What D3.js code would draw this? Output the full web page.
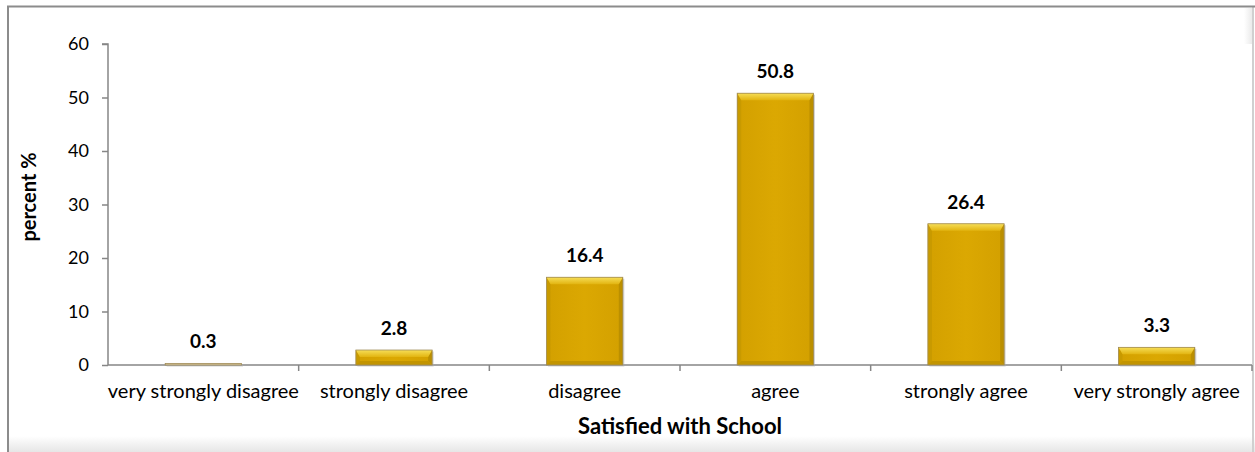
<!DOCTYPE html>
<html><head><meta charset="utf-8">
<script src="https://cdn.jsdelivr.net/npm/d3@7"></script>
<style>body{margin:0;background:#fff}svg{display:block}</style>
</head><body>
<script>
const categories = ["very strongly disagree","strongly disagree","disagree","agree","strongly agree","very strongly agree"];
const values = [0.3, 2.8, 16.4, 50.8, 26.4, 3.3];
const yTicks = [0,10,20,30,40,50,60];
const xTitle = "Satisfied with School";
const yTitle = "percent %";

const W = 1255, H = 452;
const svg = d3.select("body").append("svg").attr("width", W).attr("height", H);
const defs = svg.append("defs");
const font = "Lato, Open Sans, sans-serif";

// frame shadows
const gb = defs.append("linearGradient").attr("id","gb").attr("x1",0).attr("y1",0).attr("x2",0).attr("y2",1);
gb.append("stop").attr("offset",0).attr("stop-color","#ffffff");
gb.append("stop").attr("offset",1).attr("stop-color","#e6e6e6");
const gr = defs.append("linearGradient").attr("id","gr").attr("x1",0).attr("y1",0).attr("x2",1).attr("y2",0);
gr.append("stop").attr("offset",0).attr("stop-color","#ffffff");
gr.append("stop").attr("offset",1).attr("stop-color","#e8e8e8");
svg.append("rect").attr("x",9).attr("y",436).attr("width",1246).attr("height",16).attr("fill","url(#gb)");
svg.append("rect").attr("x",1244).attr("y",8).attr("width",9).attr("height",36).attr("fill","url(#gr)");
svg.append("line").attr("x1",1253).attr("x2",1253).attr("y1",7).attr("y2",452).attr("stroke","#d0d0d0").attr("stroke-width",2);
svg.append("line").attr("x1",7).attr("x2",1255).attr("y1",6.5).attr("y2",6.5).attr("stroke","#8c8c8c").attr("stroke-width",2);
svg.append("line").attr("x1",8).attr("x2",8).attr("y1",6).attr("y2",452).attr("stroke","#8c8c8c").attr("stroke-width",2);

const x0 = 108, x1 = 1252, yTop = 44, yBot = 365;
const x = d3.scaleBand().domain(categories).range([x0, x1]).paddingInner(0.6).paddingOuter(0.3);
const y = d3.scaleLinear().domain([0, 60]).range([yBot, yTop]);

// y axis
const ya = svg.append("g").attr("transform", `translate(${x0},0)`)
  .call(d3.axisLeft(y).tickValues(yTicks).tickSize(6).tickPadding(13));
ya.select(".domain").attr("stroke","#868686").attr("stroke-width",1.5).attr("d", `M-6,${yTop}H0V${yBot}`);
ya.selectAll(".tick line").attr("stroke","#868686").attr("stroke-width",1.5);
ya.selectAll("text").attr("font-family",font).attr("font-size",18).attr("fill","#000");

// x axis
const bandW = (x1 - x0) / categories.length;
const xa = svg.append("g").attr("transform", `translate(0,${yBot})`)
  .call(d3.axisBottom(x).tickSize(0).tickPadding(19));
xa.select(".domain").attr("stroke","#868686").attr("stroke-width",1.5).attr("d", `M${x0},0H${x1}`);
xa.selectAll("text").attr("font-family",font).attr("font-size",20).attr("fill","#000");
const bounds = d3.range(1, categories.length + 1).map(i => x0 + i * bandW);
svg.append("g").selectAll("line").data(bounds).join("line")
  .attr("x1", d => d).attr("x2", d => d).attr("y1", yBot).attr("y2", yBot + 6)
  .attr("stroke","#868686").attr("stroke-width",1.5);

// bars with bevel
const gf = defs.append("linearGradient").attr("id","gf").attr("x1",0).attr("y1",0).attr("x2",1).attr("y2",0);
gf.append("stop").attr("offset",0).attr("stop-color","#d3a000");
gf.append("stop").attr("offset",0.5).attr("stop-color","#dba802");
gf.append("stop").attr("offset",1).attr("stop-color","#d3a000");
const gt = defs.append("linearGradient").attr("id","gt").attr("x1",0).attr("y1",0).attr("x2",0).attr("y2",1);
gt.append("stop").attr("offset",0).attr("stop-color","#f6de58");
gt.append("stop").attr("offset",1).attr("stop-color","#e2b410");
const bars = svg.append("g").selectAll("g").data(categories.map((c,i)=>({c, v: values[i]}))).join("g");
bars.each(function(d){
  const g = d3.select(this);
  const bx = x(d.c), bw = x.bandwidth(), by = y(d.v), bh = yBot - by;
  const bt = Math.min(7, bh*0.55), bs = Math.min(4, bh/3);
  g.append("rect").attr("x",bx+1.5).attr("y",by+1.5).attr("width",bw).attr("height",bh).attr("fill","#aaa").attr("opacity",0.5);
  g.append("rect").attr("x",bx).attr("y",by).attr("width",bw).attr("height",bh).attr("fill", d.v < 1 ? "#d9c9a0" : "url(#gf)");
  if (d.v >= 1) {
    g.append("path").attr("d",`M${bx},${by}L${bx+bs},${by+bt}V${yBot-bs}L${bx},${yBot}Z`).attr("fill","#c89a00");
    g.append("path").attr("d",`M${bx+bw},${by}L${bx+bw-bs},${by+bt}V${yBot-bs}L${bx+bw},${yBot}Z`).attr("fill","#bb8f00");
    g.append("path").attr("d",`M${bx},${yBot}L${bx+bs},${yBot-bs}H${bx+bw-bs}L${bx+bw},${yBot}Z`).attr("fill","#c29400");
    g.append("path").attr("d",`M${bx},${by}H${bx+bw}L${bx+bw-bs},${by+bt}H${bx+bs}Z`).attr("fill","url(#gt)");
  }
  g.append("rect").attr("x",bx).attr("y",by).attr("width",bw).attr("height",bh).attr("fill","none").attr("stroke","#a08c58").attr("stroke-width",0.8);
  g.append("text").attr("x", bx + bw/2).attr("y", by - 15).attr("text-anchor","middle")
    .attr("font-family",font).attr("font-weight","bold").attr("font-size",19).text(d.v.toFixed(1));
});

// titles
svg.append("text").attr("x",(x0+x1)/2).attr("y",434).attr("text-anchor","middle")
  .attr("font-family",font).attr("font-weight","bold").attr("font-size",22).text(xTitle);
svg.append("text").attr("transform","translate(36,197) rotate(-90)").attr("text-anchor","middle")
  .attr("font-family",font).attr("font-weight","bold").attr("font-size",20).text(yTitle);
</script>
</body></html>
